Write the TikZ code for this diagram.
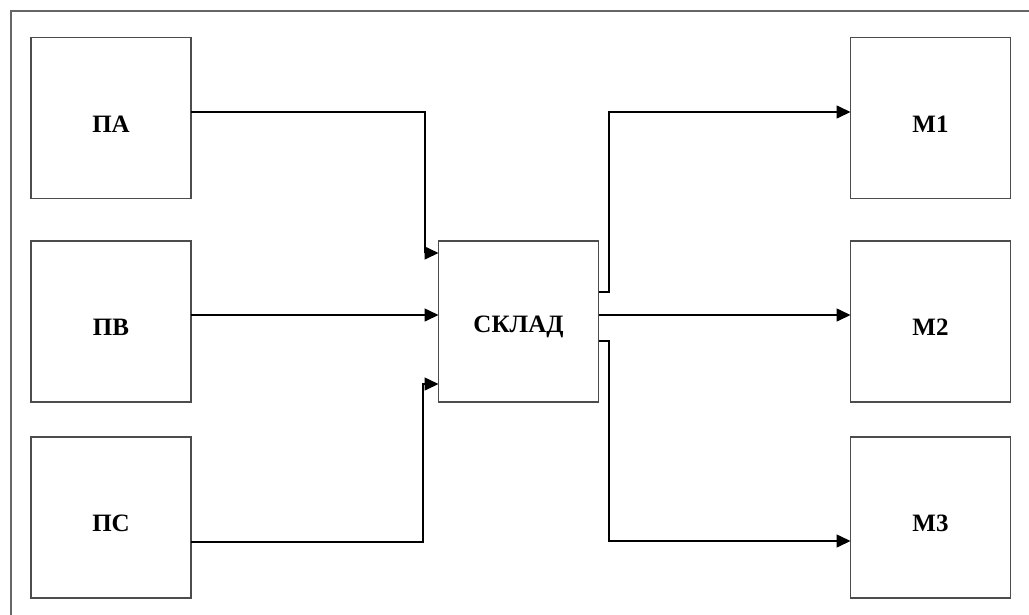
\documentclass[tikz,border=0pt]{standalone}
\usepackage{fontspec}
\setmainfont{Liberation Serif}
\usetikzlibrary{arrows.meta}
\tikzset{
  blk/.style={draw=black!70, line width=1.4pt, minimum width=160pt, minimum height=161pt, inner sep=0pt, outer sep=0pt},
  lbl/.style={font=\fontsize{25}{25}\selectfont\bfseries, inner sep=0pt},
  con/.style={draw=black, line width=1.6pt},
  arr/.style={con, -{Triangle[length=14pt,width=13pt]}},
}
\begin{document}
\begin{tikzpicture}[x=1pt,y=-1pt]
\useasboundingbox (0,0) rectangle (1029,614);
\fill[white] (0,0) rectangle (1029,614);
% outer frame (right and bottom sides lie outside the picture)
\draw[black!60, line width=1.4pt] (11,640) -- (11,11) -- (1050,11);
% sources
\node[blk] (pa) at (111,118) {};
\node[blk] (pb) at (111,321.5) {};
\node[blk] (pc) at (111,517.5) {};
% store
\node[blk] (sk) at (518.5,321.5) {};
% consumers
\node[blk] (m1) at (930.5,118) {};
\node[blk] (m2) at (930.5,321.5) {};
\node[blk] (m3) at (930.5,517.5) {};
% labels
\node[lbl] (tpa) at ([yshift=-6pt]pa.center) {ПА};
\node[lbl] (tpb) at ([yshift=-6pt]pb.center) {ПВ};
\node[lbl] (tpc) at ([yshift=-6pt]pc.center) {ПС};
\node[lbl] (tsk) at ([yshift=-5pt]sk.center) {СКЛАД};
\node[lbl] (tm1) at ([yshift=-6pt]m1.center) {М1};
\node[lbl] (tm2) at ([yshift=-6pt]m2.center) {М2};
\node[lbl] (tm3) at ([yshift=-6pt]m3.center) {М3};
% coordinates for connector ends
\coordinate (skin1) at (sk.west |- 0,253);
\coordinate (skin3) at (sk.west |- 0,384);
\coordinate (skout1) at (sk.east |- 0,292);
\coordinate (skout3) at (sk.east |- 0,341);
% incoming
\draw[arr] (pa.east |- 0,112) -- (425,112) -- (425,253) -- (skin1);
\draw[arr] (pb.east |- 0,315) -- (sk.west |- 0,315);
\draw[arr] (pc.east |- 0,542) -- (423,542) -- (423,384) -- (skin3);
% outgoing
\draw[arr] (skout1) -- (609,292) -- (609,112) -- (m1.west |- 0,112);
\draw[arr] (sk.east |- 0,315) -- (m2.west |- 0,315);
\draw[arr] (skout3) -- (609,341) -- (609,541) -- (m3.west |- 0,541);
\end{tikzpicture}
\end{document}
